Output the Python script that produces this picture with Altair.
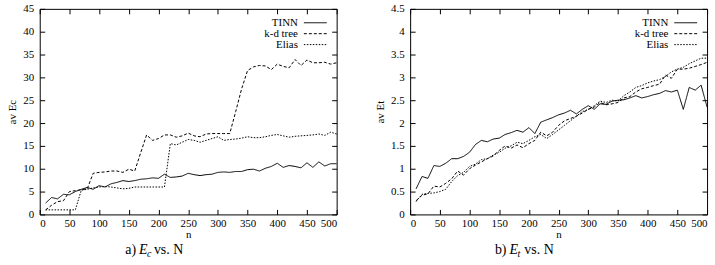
import altair as alt
import pandas as pd

n_values = list(range(10, 510, 10))
series_names = ["TINN", "k-d tree", "Elias"]

ec_tinn = [2.5, 3.7, 3.4, 4.4, 4.3, 5.0, 5.5, 5.9, 5.5, 6.3, 6.0, 6.7, 7.0, 7.4, 7.2, 7.4, 7.7, 7.8, 8.0, 7.9,
           8.8, 8.1, 8.2, 8.4, 9.0, 8.7, 8.5, 8.7, 8.8, 9.2, 9.3, 9.2, 9.4, 9.4, 9.8, 9.9, 9.5, 10.1, 10.5, 11.2,
           10.3, 10.7, 10.5, 10.2, 11.3, 10.3, 11.5, 10.6, 11.1, 11.1]
ec_kd = [1.0, 2.0, 2.8, 3.0, 5.0, 5.2, 5.4, 5.6, 9.0, 9.2, 9.3, 9.5, 9.5, 9.2, 9.9, 9.5, 13.5, 17.4, 16.2, 16.6,
         17.4, 17.4, 16.9, 17.2, 17.8, 17.2, 17.0, 17.6, 17.7, 17.7, 17.7, 17.7, 22.5, 27.5, 31.5, 32.3, 32.6, 32.5, 31.7, 32.9,
         32.4, 32.1, 33.9, 32.6, 33.8, 33.2, 33.2, 33.3, 32.9, 33.2]
ec_elias = [1.0, 1.0, 1.0, 1.0, 1.0, 1.0, 5.3, 5.5, 5.8, 6.0, 6.1, 6.0, 5.8, 5.6, 5.7, 6.0, 6.0, 6.0, 6.0, 6.0,
            6.0, 15.5, 15.2, 15.8, 16.4, 16.2, 15.8, 16.2, 16.6, 17.0, 16.2, 16.4, 16.5, 16.7, 17.0, 16.8, 16.8, 17.0, 17.3, 17.5,
            17.2, 16.9, 17.1, 17.2, 17.3, 17.4, 17.6, 17.3, 18.0, 17.6]

et_tinn = [0.56, 0.83, 0.79, 1.07, 1.05, 1.12, 1.22, 1.22, 1.27, 1.36, 1.53, 1.62, 1.59, 1.65, 1.67, 1.75, 1.79, 1.84, 1.80, 1.90,
           1.77, 2.02, 2.07, 2.12, 2.18, 2.22, 2.28, 2.20, 2.30, 2.38, 2.30, 2.42, 2.41, 2.48, 2.50, 2.51, 2.55, 2.60, 2.55, 2.58,
           2.62, 2.65, 2.71, 2.68, 2.72, 2.30, 2.78, 2.72, 2.83, 2.35]
et_kd = [0.30, 0.42, 0.45, 0.62, 0.60, 0.68, 0.78, 0.95, 0.86, 1.00, 1.08, 1.15, 1.22, 1.28, 1.40, 1.50, 1.45, 1.52, 1.46, 1.55,
         1.62, 1.80, 1.72, 1.80, 1.95, 2.05, 2.10, 2.15, 2.22, 2.30, 2.35, 2.45, 2.40, 2.42, 2.45, 2.55, 2.58, 2.68, 2.75, 2.78,
         2.82, 2.85, 3.05, 2.98, 3.18, 3.18, 3.20, 3.24, 3.28, 3.33]
et_elias = [0.28, 0.44, 0.46, 0.47, 0.50, 0.55, 0.72, 0.85, 0.92, 1.05, 1.10, 1.20, 1.22, 1.30, 1.36, 1.45, 1.50, 1.58, 1.55, 1.62,
            1.70, 1.75, 1.66, 1.75, 1.85, 1.95, 2.05, 2.15, 2.25, 2.30, 2.38, 2.48, 2.45, 2.50, 2.48, 2.60, 2.68, 2.78, 2.82, 2.88,
            2.92, 2.95, 3.02, 3.12, 3.18, 3.22, 3.30, 3.36, 3.42, 3.42]

x_ticks = list(range(0, 550, 50))
ec_ticks = list(range(0, 50, 5))
et_ticks = [i * 0.5 for i in range(10)]

FONT = "Liberation Serif"
DASHES = [[1, 0], [3, 2], [1.5, 1.5]]
W, H = 299, 207


def make_df(vals):
    rows = []
    for name, ys in zip(series_names, vals):
        for n, v in zip(n_values, ys):
            rows.append({"n": n, "v": v, "series": name})
    return pd.DataFrame(rows)


def one_row(label):
    return pd.DataFrame({"label": [label]})


def panel(df, ymax, yticks, ytitle, cap_prefix, cap_sub):
    xscale = alt.Scale(domain=[0, 500], nice=False, zero=False)
    yscale = alt.Scale(domain=[0, ymax], nice=False)
    common_axis = dict(domain=False, grid=False, offset=-5, tickSize=5, tickColor="black",
                       tickWidth=1, labelFont=FONT, labelFontSize=11, labelColor="black",
                       titleFont=FONT, titleFontSize=11, titleFontWeight="normal", titleColor="black")
    lines = alt.Chart(df).mark_line(color="black", strokeWidth=1).encode(
        x=alt.X("n:Q", scale=xscale,
                axis=alt.Axis(orient="bottom", values=x_ticks, title="n", labelPadding=3,
                              titlePadding=0, **common_axis)),
        y=alt.Y("v:Q", scale=yscale,
                axis=alt.Axis(orient="left", values=yticks, title=ytitle, format="~g",
                              labelPadding=6, titlePadding=5, **common_axis)),
        strokeDash=alt.StrokeDash("series:N", scale=alt.Scale(domain=series_names, range=DASHES), legend=None),
        detail="series:N",
    )
    mirror = alt.Chart(df).mark_line(opacity=0).encode(
        x=alt.X("n:Q", scale=xscale,
                axis=alt.Axis(orient="top", values=x_ticks, title=None, labels=False, **common_axis)),
        y=alt.Y("v:Q", scale=yscale,
                axis=alt.Axis(orient="right", values=yticks, title=None, labels=False, **common_axis)),
        detail="series:N",
    )
    layers = [lines, mirror]
    for i, name in enumerate(series_names):
        yy = 14 + 11 * i
        layers.append(alt.Chart(one_row(name)).mark_text(align="right", baseline="middle", font=FONT,
                                                         fontSize=11, color="black").encode(
            text="label:N", x=alt.value(260), y=alt.value(yy)))
        layers.append(alt.Chart(one_row(name)).mark_rule(color="black", strokeWidth=1, strokeDash=DASHES[i]).encode(
            x=alt.value(266), x2=alt.value(289), y=alt.value(yy)))
    cy = H + 36
    cx = 97
    txt = dict(baseline="middle", font=FONT, color="black")
    layers.append(alt.Chart(one_row(cap_prefix)).mark_text(align="right", fontSize=14, **txt).encode(
        text="label:N", x=alt.value(cx), y=alt.value(cy)))
    layers.append(alt.Chart(one_row("E")).mark_text(align="left", fontStyle="italic", fontSize=14, **txt).encode(
        text="label:N", x=alt.value(cx + 3), y=alt.value(cy)))
    layers.append(alt.Chart(one_row(cap_sub)).mark_text(align="left", fontStyle="italic", fontSize=10, **txt).encode(
        text="label:N", x=alt.value(cx + 11), y=alt.value(cy + 4)))
    layers.append(alt.Chart(one_row("vs. N")).mark_text(align="left", fontSize=14, **txt).encode(
        text="label:N", x=alt.value(cx + 18), y=alt.value(cy)))
    return alt.layer(*layers).properties(width=W, height=H)


left = panel(make_df([ec_tinn, ec_kd, ec_elias]), 45, ec_ticks, "av Ec", "a)", "c")
right = panel(make_df([et_tinn, et_kd, et_elias]), 4.5, et_ticks, "av Et", "b)", "t")

chart = alt.hconcat(left, right, spacing=34).configure_view(
    stroke="black", strokeWidth=1
).properties(padding={"left": 6, "top": 1, "right": 5, "bottom": 0}, background="white")

chart.save("out.html", embed_options={"renderer": "svg", "actions": False})
